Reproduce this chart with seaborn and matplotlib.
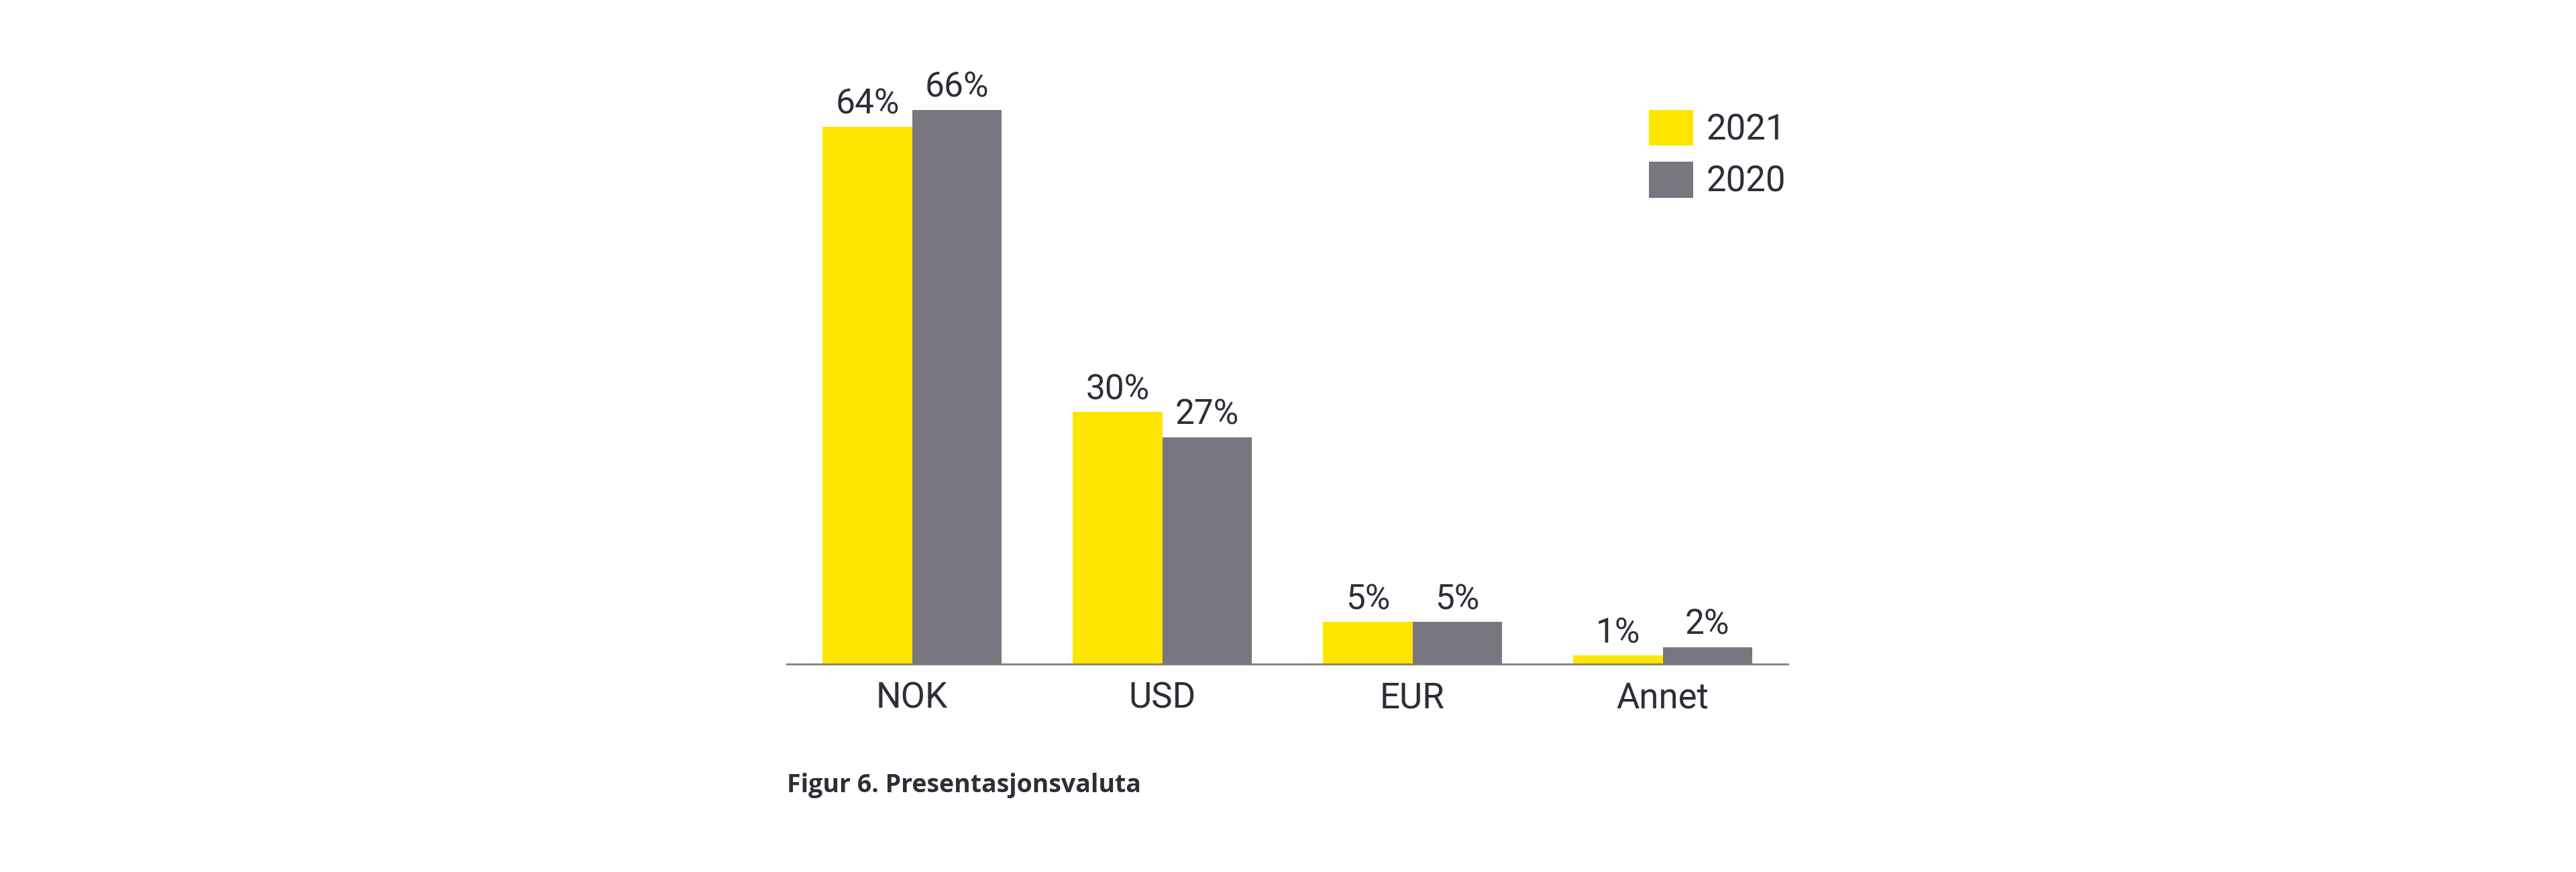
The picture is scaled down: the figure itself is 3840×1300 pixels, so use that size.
import matplotlib
matplotlib.use("Agg")
import matplotlib.pyplot as plt
import seaborn as sns
import pandas as pd

categories = ["NOK", "USD", "EUR", "Annet"]
years = ["2021", "2020"]
values_2021 = [64, 30, 5, 1]
values_2020 = [66, 27, 5, 2]
title_text = "Figur 6. Presentasjonsvaluta"

colors = {"2021": "#FFE600", "2020": "#7A7680"}
text_color = "#2E2E38"

df = pd.DataFrame({
    "Valuta": categories * 2,
    "Ar": [years[0]] * len(categories) + [years[1]] * len(categories),
    "Andel": values_2021 + values_2020,
})

sns.set_theme(style="white")
plt.rcParams["font.family"] = ["Roboto", "DejaVu Sans"]

W, H = 3840, 1300
fig = plt.figure(figsize=(W / 100, H / 100), dpi=100)
ax_left, ax_right = 1173, 2665
ax_bottom, ax_top = 990, 100
ax = fig.add_axes([ax_left / W, 1 - ax_bottom / H,
                   (ax_right - ax_left) / W, (ax_bottom - ax_top) / H])

sns.barplot(data=df, x="Valuta", y="Andel", hue="Ar", hue_order=years,
            order=categories, palette=colors, width=0.714, saturation=1,
            linewidth=0, ax=ax, legend=True)

for cont in ax.containers:
    ax.bar_label(cont, fmt="%.0f%%", padding=6, fontsize=37,
                 color=text_color, fontweight="normal")

ax.set_xlim(-0.5, 3.5)
ax.set_ylim(0, (ax_bottom - ax_top) / 12.52)
ax.set_xlabel("")
ax.set_ylabel("")
ax.set_yticks([])
for s in ["left", "right", "top"]:
    ax.spines[s].set_visible(False)
ax.spines["bottom"].set_color("#808080")
ax.spines["bottom"].set_linewidth(2)
ax.tick_params(axis="x", length=0, pad=18, labelsize=38, labelcolor=text_color)

handles, labels = ax.get_legend_handles_labels()
fs = 38
em = fs * 100 / 72
leg = ax.legend(handles, labels, loc="upper left",
                bbox_to_anchor=(2458 / W, 1 - 164 / H), bbox_transform=fig.transFigure,
                frameon=False, borderpad=0, borderaxespad=0, fontsize=fs,
                handlelength=66 / em, handleheight=62 / em, labelspacing=22 / em,
                handletextpad=0.38, labelcolor=text_color)

fig.text(1173 / W, 1 - 1171 / H, title_text, fontsize=27, fontweight="bold",
         color=text_color, va="center", ha="left",
         family=["Open Sans", "DejaVu Sans"])

fig.savefig("out.png", dpi=100, facecolor="white")
